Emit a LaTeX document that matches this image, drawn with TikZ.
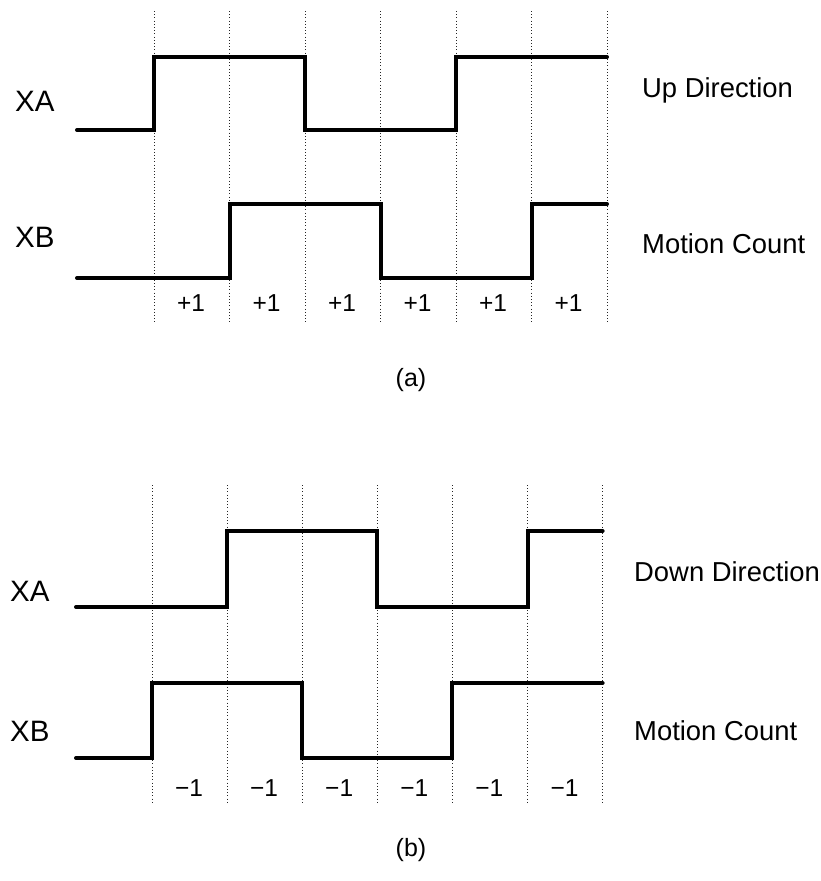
\documentclass[tikz,border=0pt]{standalone}
\usepackage{fontspec}
\setmainfont{Liberation Sans}
\begin{document}
\begin{tikzpicture}[x=1pt,y=-1pt,
  sig/.style={line width=4pt,line cap=round,line join=miter},
  gridline/.style={line width=1pt,dash pattern=on 1pt off 2.2pt,black!85},
  sname/.style={anchor=base west,inner sep=0pt,font=\fontsize{29.5}{29.5}\selectfont},
  desc/.style={anchor=base west,inner sep=0pt,font=\fontsize{27.4}{27.4}\selectfont},
  cnt/.style={anchor=base,inner sep=0pt,font=\fontsize{24.5}{24.5}\selectfont},
  captext/.style={anchor=base,inner sep=0pt,font=\fontsize{25}{25}\selectfont}]
\useasboundingbox (0,0) rectangle (821,881);
% ---------- (a) ----------
\foreach \i in {0,...,6} {
  \draw[gridline] ({154+75.5*\i},11) -- ({154+75.5*\i},322);
}
\draw[sig] (77,130) -- (154,130) -- (154,57) -- (305,57) -- (305,130) -- (456,130) -- (456,57) -- (607,57);
\draw[sig] (77,278) -- (229.5,278) -- (229.5,204) -- (380.5,204) -- (380.5,278) -- (531.5,278) -- (531.5,204) -- (607,204);
\node[sname] (axa) at (15,111) {XA};
\node[sname] (axb) at (15,247) {XB};
\node[desc] (aup) at (642,97.5) {Up Direction};
\node[desc] (amc) at (642,253) {Motion Count};
\foreach \i in {0,...,5} {
  \node[cnt] (ac\i) at ({154+75.5*\i+37},311.5) {+1};
}
\node[captext] (capa) at (411,386) {(a)};
% ---------- (b) ----------
\foreach \i in {0,...,6} {
  \draw[gridline] ({152+75.1*\i},485) -- ({152+75.1*\i},803);
}
\draw[sig] (76,607) -- (227.1,607) -- (227.1,531) -- (377.3,531) -- (377.3,607) -- (527.5,607) -- (527.5,531) -- (602.6,531);
\draw[sig] (76,758) -- (152,758) -- (152,683) -- (302.2,683) -- (302.2,758) -- (452.4,758) -- (452.4,683) -- (602.6,683);
\node[sname] (bxa) at (10,601.5) {XA};
\node[sname] (bxb) at (10,741.5) {XB};
\node[desc] (bdn) at (634,581.5) {Down Direction};
\node[desc] (bmc) at (634,740) {Motion Count};
\foreach \i in {0,...,5} {
  \node[cnt] (bc\i) at ({152+75.1*\i+37},796.5) {−1};
}
\node[captext] (capb) at (411,856) {(b)};
\end{tikzpicture}
\end{document}
